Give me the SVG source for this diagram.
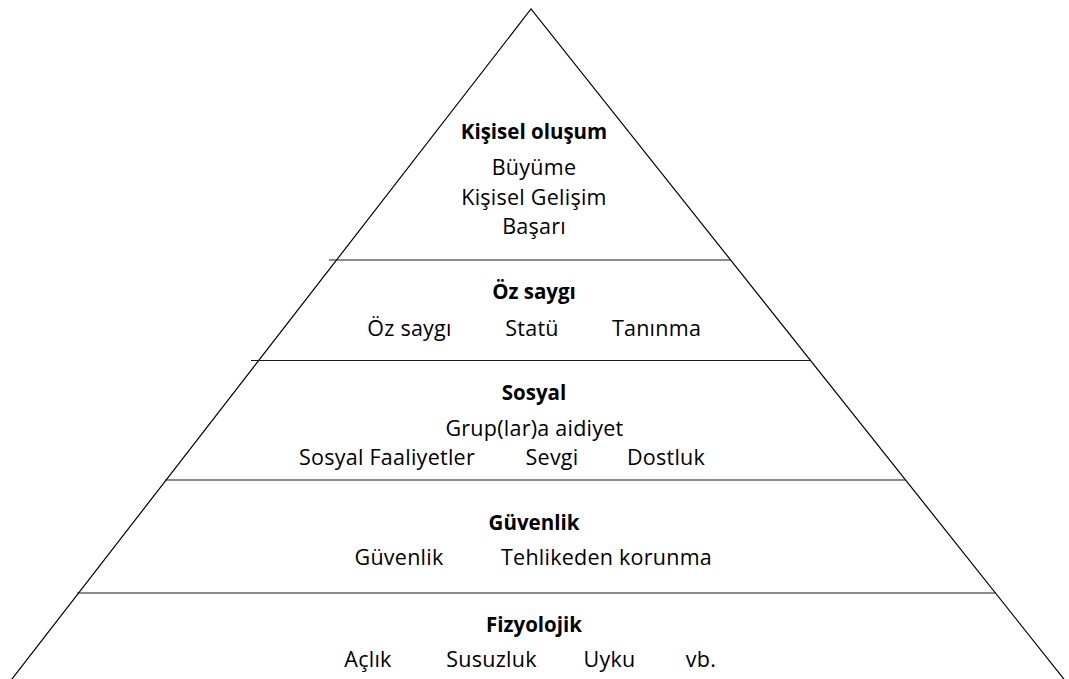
<svg xmlns="http://www.w3.org/2000/svg" width="1069" height="679" viewBox="0 0 1069 679">
<style>
.edge{stroke:#000;stroke-width:1.2;fill:none}
.div{stroke:#1a1a1a;stroke-width:1.2}
.t{font-family:"Open Sans","Noto Sans",sans-serif;font-size:21.5px;letter-spacing:0.25px;fill:#000;text-anchor:middle}
.h{font-family:"Open Sans","Noto Sans",sans-serif;font-size:20.5px;font-weight:bold;fill:#000;text-anchor:middle}
</style>
<rect width="1069" height="679" fill="#fff"/>
<g id="connectors">
<polyline class="edge" points="5,688 531,9 1071,688"/>
<line class="div" x1="329" y1="260" x2="731" y2="260"/>
<line class="div" x1="251" y1="360.5" x2="810" y2="360.5"/>
<line class="div" x1="165" y1="480" x2="906" y2="480"/>
<line class="div" x1="77" y1="593" x2="996" y2="593"/>
</g>
<g id="level5">
<text class="h" x="534" y="139">Kişisel oluşum</text>
<text class="t" x="534" y="175">Büyüme</text>
<text class="t" x="534" y="204.5">Kişisel Gelişim</text>
<text class="t" x="534" y="233.5">Başarı</text>
</g>
<g id="level4">
<text class="h" x="534" y="299">Öz saygı</text>
<text class="t" x="409.5" y="336">Öz saygı</text>
<text class="t" x="532" y="336">Statü</text>
<text class="t" x="656.5" y="336">Tanınma</text>
</g>
<g id="level3">
<text class="h" x="534" y="400">Sosyal</text>
<text class="t" x="534.5" y="435.5">Grup(lar)a aidiyet</text>
<text class="t" x="387" y="465">Sosyal Faaliyetler</text>
<text class="t" x="552" y="465">Sevgi</text>
<text class="t" x="666" y="465">Dostluk</text>
</g>
<g id="level2">
<text class="h" x="534" y="530">Güvenlik</text>
<text class="t" x="399" y="565">Güvenlik</text>
<text class="t" x="606.5" y="565">Tehlikeden korunma</text>
</g>
<g id="level1">
<text class="h" x="534" y="632">Fizyolojik</text>
<text class="t" x="368" y="667">Açlık</text>
<text class="t" x="491.5" y="667">Susuzluk</text>
<text class="t" x="609.5" y="667">Uyku</text>
<text class="t" x="701" y="667">vb.</text>
</g>
</svg>
